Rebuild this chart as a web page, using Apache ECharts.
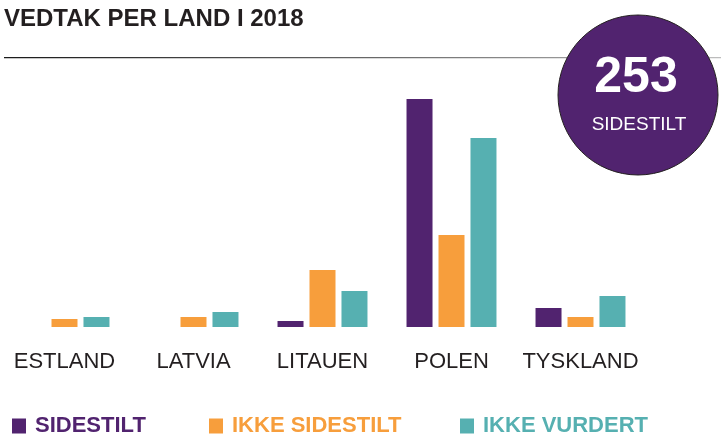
<!DOCTYPE html>
<html>
<head>
<meta charset="UTF-8">
<title>Vedtak per land i 2018</title>
<script src="https://cdn.jsdelivr.net/npm/echarts@6/dist/echarts.min.js"></script>
<style>
	body { margin: 0; background: #fff; }
	#chart { width: 721px; height: 435px; }
</style>
</head>
<body>
	<div id="chart"></div>
	<script>
	// data
	var lands = ['ESTLAND', 'LATVIA', 'LITAUEN', 'POLEN', 'TYSKLAND'];
	var sidestilt = [0, 0, 6, 228, 19];
	var ikkeSidestilt = [8, 10, 57, 92, 10];
	var ikkeVurdert = [10, 15, 36, 189, 31];
	var seriesNames = ['SIDESTILT', 'IKKE SIDESTILT', 'IKKE VURDERT'];
	var totalSidestilt = '253';

	var purple = '#51236f', orange = '#f79e3c', teal = '#56b0b1';
	var dark = '#231f20';
	var font = '"Liberation Sans", Arial, sans-serif';

	var chart = echarts.init(document.getElementById('chart'));

	function legendItem(name, left, color){
		return {
			data: [name],
			left: left,
			top: 415,
			padding: 0,
			icon: 'rect',
			itemWidth: 14,
			itemHeight: 15,
			selectedMode: false,
			textStyle: {
				color: color,
				fontFamily: font,
				fontWeight: 'bold',
				fontSize: 22,
				padding: [0, 0, 0, 4]
			}
		};
	}

	var option = {
		animation: false,
		title: {
			text: 'VEDTAK PER LAND I 2018',
			left: 4,
			top: 7,
			padding: 0,
			textStyle: {
				color: dark,
				fontFamily: font,
				fontWeight: 'bold',
				fontSize: 24
			}
		},
		legend: [
			legendItem(seriesNames[0], 12, purple),
			legendItem(seriesNames[1], 209, orange),
			legendItem(seriesNames[2], 460, teal)
		],
		grid: {
			left: -5,
			right: 76,
			top: 77,
			bottom: 108,
			containLabel: false
		},
		xAxis: {
			type: 'category',
			data: lands,
			axisLine: { show: false },
			axisTick: { show: false },
			axisLabel: {
				interval: 0,
				margin: 24,
				color: dark,
				fontFamily: font,
				fontSize: 22
			}
		},
		yAxis: {
			type: 'value',
			min: 0,
			max: 250,
			show: false,
			splitLine: { show: false }
		},
		series: [
			{ name: seriesNames[0], type: 'bar', data: sidestilt, barWidth: 26, barGap: '23%', itemStyle: { color: purple } },
			{ name: seriesNames[1], type: 'bar', data: ikkeSidestilt, barWidth: 26, barGap: '23%', itemStyle: { color: orange } },
			{ name: seriesNames[2], type: 'bar', data: ikkeVurdert, barWidth: 26, barGap: '23%', itemStyle: { color: teal } }
		],
		graphic: [
			{
				type: 'rect',
				shape: { x: 4, y: 57, width: 717, height: 1.2 },
				style: {
					fill: new echarts.graphic.LinearGradient(0, 0, 1, 0, [
						{ offset: 0, color: '#1a1a1a' },
						{ offset: 0.5, color: '#666666' },
						{ offset: 1, color: '#bdbdbd' }
					])
				},
				z: 1
			},
			{
				type: 'circle',
				shape: { cx: 638, cy: 95, r: 80 },
				style: { fill: purple, stroke: dark, lineWidth: 1 },
				z: 10
			},
			{
				type: 'text',
				x: 636,
				y: 78,
				style: {
					text: totalSidestilt,
					fill: '#ffffff',
					font: 'bold 50px ' + font,
					align: 'center',
					verticalAlign: 'middle'
				},
				z: 11
			},
			{
				type: 'text',
				x: 639,
				y: 125,
				style: {
					text: 'SIDESTILT',
					fill: '#ffffff',
					font: '19px ' + font,
					align: 'center',
					verticalAlign: 'middle'
				},
				z: 11
			}
		]
	};

	chart.setOption(option);
	</script>
</body>
</html>
